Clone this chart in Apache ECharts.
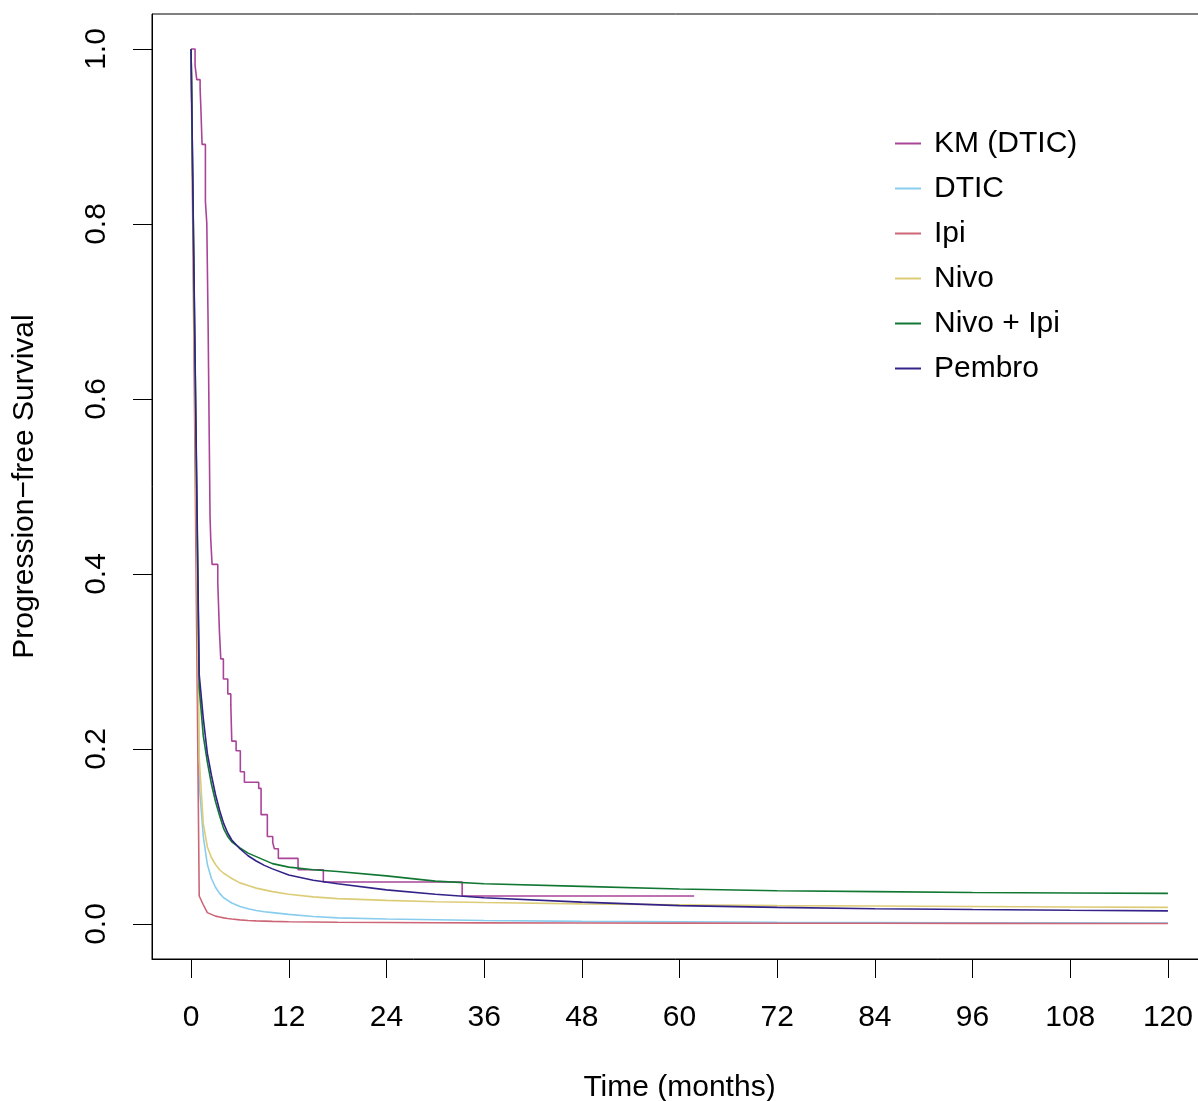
<!DOCTYPE html>
<html>
<head>
<meta charset="utf-8">
<script src="https://cdn.jsdelivr.net/npm/echarts@6/dist/echarts.min.js"></script>
<style>
html,body{margin:0;padding:0;background:#fff;overflow:hidden;}
#c{width:1198px;height:1101px;}
</style>
</head>
<body>
<div id="c"></div>
<script>
// ---- data ----
var xTicks = [0, 12, 24, 36, 48, 60, 72, 84, 96, 108, 120];
var yTicks = [0, 0.2, 0.4, 0.6, 0.8, 1.0];

// Kaplan-Meier (DTIC) step points: time (months), survival after each step
var kmTime = [0, 0.49, 0.70, 1.11, 1.19, 1.35, 1.76, 1.93, 2.09, 2.33, 2.42, 2.58, 3.28, 3.48, 3.65, 3.97, 4.51, 4.88, 5.00, 5.53, 6.05, 6.55, 8.31, 8.60, 9.37, 10.03, 10.23, 10.72, 13.14, 16.25, 33.30, 61.80];
var kmSurv = [1.0, 0.981, 0.965, 0.955, 0.936, 0.891, 0.826, 0.801, 0.688, 0.465, 0.439, 0.411, 0.390, 0.335, 0.303, 0.280, 0.263, 0.251, 0.209, 0.198, 0.174, 0.162, 0.155, 0.125, 0.100, 0.093, 0.086, 0.075, 0.062, 0.048, 0.032, 0.032];

// model curves, read at these months
var tModel  = [0, 1, 1.5, 2, 2.5, 3, 3.5, 4, 4.5, 5, 6, 7, 8, 9, 10, 12, 15, 18, 24, 30, 36, 48, 60, 72, 84, 96, 108, 120];
var dtic    = [1.0, 0.160, 0.100, 0.068, 0.052, 0.042, 0.035, 0.030, 0.027, 0.024, 0.020, 0.0175, 0.0155, 0.014, 0.013, 0.011, 0.0085, 0.007, 0.0057, 0.0048, 0.004, 0.003, 0.0025, 0.002, 0.0017, 0.0015, 0.0013, 0.0011];
var ipi     = [1.0, 0.032, 0.022, 0.013, 0.011, 0.009, 0.008, 0.007, 0.0063, 0.0057, 0.0047, 0.004, 0.0036, 0.0033, 0.003, 0.0026, 0.0023, 0.002, 0.0017, 0.0015, 0.0013, 0.0011, 0.001, 0.0009, 0.0008, 0.0007, 0.00065, 0.0006];
var nivo    = [1.0, 0.190, 0.115, 0.088, 0.076, 0.068, 0.062, 0.058, 0.055, 0.052, 0.047, 0.044, 0.041, 0.039, 0.037, 0.034, 0.031, 0.029, 0.027, 0.0255, 0.0245, 0.023, 0.022, 0.021, 0.0205, 0.020, 0.0195, 0.019];
var nivoIpi = [1.0, 0.270, 0.215, 0.185, 0.160, 0.140, 0.124, 0.109, 0.100, 0.094, 0.087, 0.081, 0.077, 0.073, 0.069, 0.065, 0.062, 0.060, 0.055, 0.049, 0.046, 0.043, 0.040, 0.038, 0.037, 0.036, 0.0355, 0.035];
var pembro  = [1.0, 0.285, 0.235, 0.195, 0.170, 0.148, 0.130, 0.115, 0.104, 0.096, 0.086, 0.078, 0.072, 0.067, 0.063, 0.056, 0.050, 0.046, 0.039, 0.034, 0.030, 0.025, 0.021, 0.019, 0.0175, 0.0165, 0.0157, 0.015];

var names = ['KM (DTIC)', 'DTIC', 'Ipi', 'Nivo', 'Nivo + Ipi', 'Pembro'];
var colors = ['#AA4499', '#88CCEE', '#CC6677', '#DDCC77', '#117733', '#332288'];

function pairs(xs, ys) { return xs.map(function (x, i) { return [x, ys[i]]; }); }

var FONT = 'Liberation Sans, Arial, sans-serif';
var FS = 30;
var chart = echarts.init(document.getElementById('c'), null, {renderer: 'canvas'});

var modelData = [dtic, ipi, nivo, nivoIpi, pembro];
var series = [{
  name: names[0], type: 'line', step: 'end', showSymbol: false, symbol: 'none',
  data: pairs(kmTime, kmSurv), color: colors[0],
  lineStyle: {width: 1.6, color: colors[0]}, animation: false, z: 2
}];
modelData.forEach(function (d, i) {
  series.push({
    name: names[i + 1], type: 'line', showSymbol: false, symbol: 'none',
    data: pairs(tModel, d), color: colors[i + 1],
    lineStyle: {width: 1.6, color: colors[i + 1]}, animation: false, z: 3 + i
  });
});

chart.setOption({
  animation: false,
  backgroundColor: '#fff',
  grid: {left: 152, top: 14, right: -9, bottom: 142, show: true, borderColor: '#000', borderWidth: 1,
         containLabel: false, outerBoundsMode: 'none'},
  xAxis: {
    type: 'value', min: -4.8, max: 124.8,
    name: 'Time (months)', nameLocation: 'middle', nameGap: 114,
    nameTextStyle: {fontFamily: FONT, fontSize: FS, color: '#000'},
    axisLine: {show: true, onZero: false, lineStyle: {color: '#000', width: 1}},
    axisTick: {show: true, inside: false, length: 19, lineStyle: {color: '#000', width: 1}, customValues: xTicks},
    axisLabel: {show: true, margin: 44, fontFamily: FONT, fontSize: FS, color: '#000', customValues: xTicks,
      formatter: function (v) { return String(v); }},
    splitLine: {show: false}
  },
  yAxis: {
    type: 'value', min: -0.04, max: 1.04,
    name: 'Progression\u2212free Survival', nameLocation: 'middle', nameGap: 112,
    nameTextStyle: {fontFamily: FONT, fontSize: FS, color: '#000'},
    axisLine: {show: true, onZero: false, lineStyle: {color: '#000', width: 1}},
    axisTick: {show: true, inside: false, length: 19, lineStyle: {color: '#000', width: 1}, customValues: yTicks},
    axisLabel: {show: true, margin: 40, rotate: 90, fontFamily: FONT, fontSize: FS, color: '#000', customValues: yTicks,
      formatter: function (v) { return v.toFixed(1); }},
    splitLine: {show: false}
  },
  legend: {
    show: true, orient: 'vertical', left: 890, top: 123, padding: 5,
    icon: 'rect', itemWidth: 26, itemHeight: 2, itemGap: 14,
    textStyle: {fontFamily: FONT, fontSize: FS, color: '#000', lineHeight: 31, padding: [0, 0, 0, 8]},
    data: names
  },
  series: series
});
</script>
</body>
</html>
